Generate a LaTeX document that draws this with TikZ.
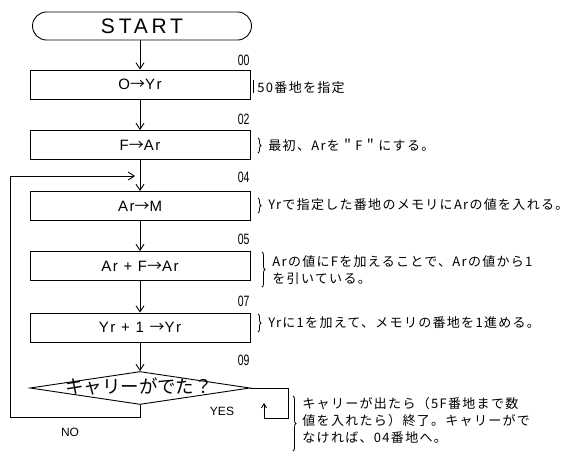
\documentclass[tikz,border=0pt]{standalone}
\usepackage{fontspec}
\setmainfont{Liberation Sans}
\newfontfamily\jp{Noto Sans CJK JP}
\newfontfamily\jpsp[LetterSpace=10]{Noto Sans CJK JP}
\newfontfamily\boxfont[LetterSpace=10]{Liberation Sans}
\newfontfamily\startfont[LetterSpace=18]{Liberation Sans}
\newcommand\rarr{{\jp →}}
\usetikzlibrary{arrows.meta,shapes.geometric,decorations.pathreplacing}
\begin{document}
\begin{tikzpicture}[x=1pt,y=-1pt,
  line width=0.9pt,
  arr/.style={-{Straight Barb[length=6pt,width=8pt]}},
  proc/.style={draw, minimum width=220pt, minimum height=29pt, inner sep=0pt, font=\boxfont\fontsize{15}{17}\selectfont},
  addr/.style={anchor=east, inner sep=0pt, font=\fontsize{15}{15}\selectfont},
  note/.style={anchor=west, inner sep=0pt, font=\jpsp\fontsize{13}{15}\selectfont},
  brc/.style={decorate, decoration={brace, amplitude=3pt}, line width=0.8pt},
]
\useasboundingbox[fill=white] (0,0) rectangle (579,451);
% start
\node[draw, rounded corners=14pt, minimum width=219pt, minimum height=28pt, inner sep=0pt,
      font=\startfont\fontsize{21}{21}\selectfont] (start) at (142,26) {START};
% process boxes
\node[proc] (b1) at (140,84.5) {O\rarr Yr};
\node[proc] (b2) at (140,145) {F\rarr Ar};
\node[proc] (b3) at (140,206) {Ar\rarr M};
\node[proc] (b4) at (140,266) {Ar + F\rarr Ar};
\node[proc] (b5) at (140,327.5) {Yr + 1 \rarr Yr};
% decision
\node[draw, diamond, minimum width=220pt, minimum height=33pt, inner sep=0pt] (dec) at (140,388) {};
\node[inner sep=0pt, font=\jp\fontsize{18.5}{18.5}\selectfont] (dect) at (139,386) {キャリーがでた？};
% addresses
\node[addr] (a00) at (250,60) {\scalebox{0.7}[1]{00}};
\node[addr] (a02) at (250,119) {\scalebox{0.7}[1]{02}};
\node[addr] (a04) at (250,177) {\scalebox{0.7}[1]{04}};
\node[addr] (a05) at (250,239) {\scalebox{0.7}[1]{05}};
\node[addr] (a07) at (250,301) {\scalebox{0.7}[1]{07}};
\node[addr] (a09) at (250,360) {\scalebox{0.7}[1]{09}};
% connectors
\draw[arr] (b1.north |- start.south) -- (b1.north);
\draw[arr] (b1) -- (b2);
\draw[arr] (b2) -- (b3);
\draw[arr] (b3) -- (b4);
\draw[arr] (b4) -- (b5);
\draw[arr] (b5) -- (dec);
% NO loop
\coordinate (nl) at (10,417);
\coordinate (loopL) at (10,176);
\coordinate (loopT) at (135,176);
\draw[arr] (dec.south) |- (nl) -- (loopL) -- (loopT);
\node[inner sep=0pt, font=\fontsize{12}{12}\selectfont] (no) at (70,432) {NO};
% YES
\coordinate (y1) at (288,388);
\coordinate (y2) at (288,418);
\coordinate (y3) at (264,418);
\coordinate (y4) at (264,403);
\draw[-{Straight Barb[length=4pt,width=5pt]}] (dec.east) -- (y1) -- (y2) -- (y3) -- (y4);
\node[inner sep=0pt, font=\fontsize{12}{12}\selectfont] (yes) at (222,411) {YES};
% notes
\draw[line width=0.8pt] (253,80) -- (253,93);
\node[note] (n1) at (257,88) {50番地を指定};
\draw[brc] (258,138) -- (258,153);
\node[note] (n2) at (268,145) {最初、Arを＂F＂にする。};
\draw[brc] (258,198) -- (258,213);
\node[note] (n3) at (268,205) {Yrで指定した番地のメモリにArの値を入れる。};
\draw[brc] (262,252) -- (262,287);
\node[note] (n4a) at (272,262) {Arの値にFを加えることで、Arの値から1};
\node[note] (n4b) at (272,279) {を引いている。};
\draw[brc] (258,314) -- (258,332);
\node[note] (n5) at (268,323) {Yrに1を加えて、メモリの番地を1進める。};
\draw[brc] (293,396) -- (293,451);
\node[note] (n6a) at (302,404) {キャリーが出たら（5F番地まで数};
\node[note] (n6b) at (302,421) {値を入れたら）終了。キャリーがで};
\node[note] (n6c) at (302,438) {なければ、04番地へ。};
\end{tikzpicture}
\end{document}
